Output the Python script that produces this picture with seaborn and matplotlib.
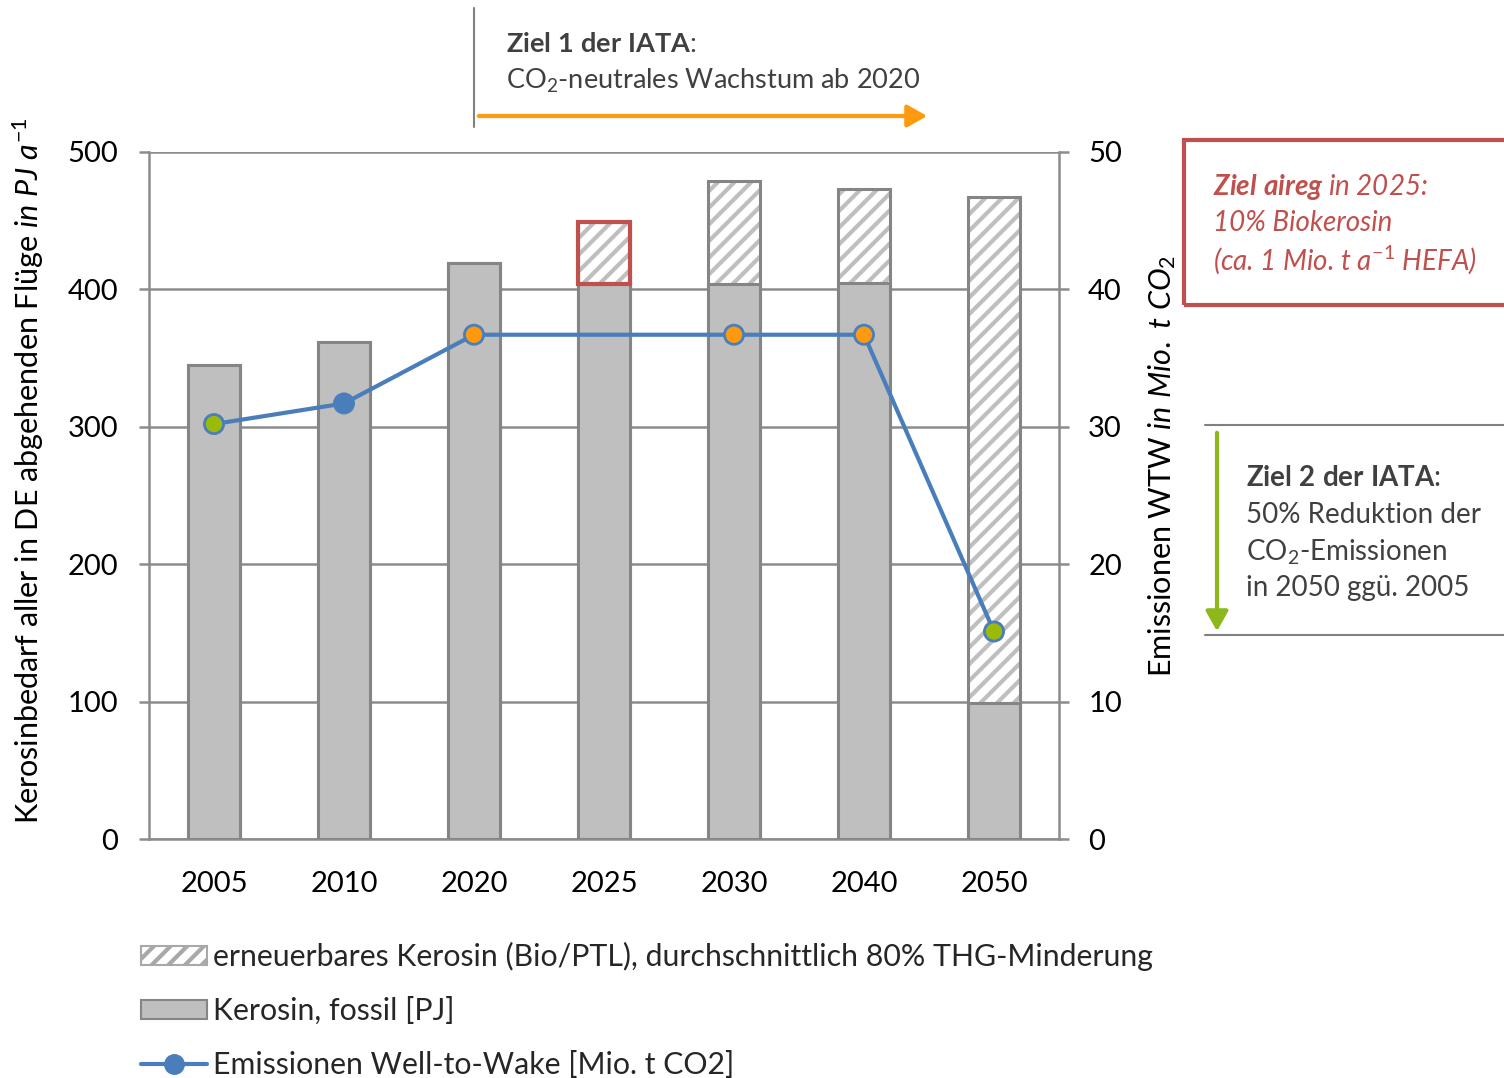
import numpy as np
import pandas as pd
import matplotlib
matplotlib.use("Agg")
import matplotlib.pyplot as plt
from matplotlib.patches import Patch, FancyArrowPatch, Rectangle
from matplotlib.lines import Line2D
import seaborn as sns

# --- data -------------------------------------------------------------
years = ["2005", "2010", "2020", "2025", "2030", "2040", "2050"]
fossil_pj = [345, 362, 419, 404, 404, 405, 99]
renewable_pj = [0, 0, 0, 45, 75, 68, 368]
emissions_mt = [30.2, 31.7, 36.7, np.nan, 36.7, 36.7, 15.1]
marker_colors = ["#9BBB0B", "#4A7EBB", "#FF9A0E", "#FF9A0E", "#FF9A0E", "#FF9A0E", "#9BBB0B"]

left_ticks = [0, 100, 200, 300, 400, 500]
right_ticks = [0, 10, 20, 30, 40, 50]

legend_labels = [
    "erneuerbares Kerosin (Bio/PTL), durchschnittlich 80% THG-Minderung",
    "Kerosin, fossil [PJ]",
    "Emissionen Well-to-Wake [Mio. t CO2]",
]

df = pd.DataFrame({"Jahr": years, "fossil": fossil_pj, "erneuerbar": renewable_pj})
df["gesamt"] = df["fossil"] + df["erneuerbar"]

# --- style ------------------------------------------------------------
sns.set_theme(style="white")
FONT = "Lato"
plt.rcParams["font.family"] = [FONT, "DejaVu Sans"]
plt.rcParams["mathtext.fontset"] = "custom"
plt.rcParams["mathtext.rm"] = FONT
plt.rcParams["mathtext.it"] = f"{FONT}:italic"
plt.rcParams["mathtext.bf"] = f"{FONT}:bold"
plt.rcParams["mathtext.bfit"] = f"{FONT}:italic:bold"
plt.rcParams["hatch.linewidth"] = 3.0

GRID = "#8C8C8C"
BAR = "#BFBFBF"
EDGE = "#858585"
BLUE = "#4A7EBB"
RED = "#C0504D"
TXT = "#404040"

W, H = 1504, 1078
fig = plt.figure(figsize=(W / 100, H / 100), dpi=100)


def fx(x):
    return x / W


def fy(y):
    return 1 - y / H


ax = fig.add_axes([fx(149), fy(839), fx(1059) - fx(149), fy(152) - fy(839)])

# stacked bars: hatched total first, fossil part on top of it
sns.barplot(data=df, x="Jahr", y="gesamt", ax=ax, width=0.4, color="white",
            edgecolor=BAR, linewidth=0, hatch="//", zorder=2)
sns.barplot(data=df, x="Jahr", y="gesamt", ax=ax, width=0.4, fill=False,
            edgecolor=EDGE, linewidth=2.2, zorder=3)
sns.barplot(data=df, x="Jahr", y="fossil", ax=ax, width=0.4, color=BAR,
            saturation=1, edgecolor=EDGE, linewidth=2.2, zorder=4)

ax.set_ylim(0, 500)
ax.set_xlim(-0.5, len(years) - 0.5)
ax.set_yticks(left_ticks)
ax.set_yticklabels([str(t) for t in left_ticks])
ax.set_xlabel("")
ax.set_ylabel("")
ax.yaxis.grid(True, color=GRID, linewidth=1.8, zorder=0)
ax.set_axisbelow(True)
ax.set_xticks(range(len(years)))
ax.set_xticklabels(years)
ax.set_xticks(np.arange(-0.5, len(years)), minor=True)
ax.tick_params(axis="x", which="major", length=0, pad=23, labelsize=21, labelcolor="black")
ax.tick_params(axis="x", which="minor", length=7, width=1.8, color=GRID, direction="out")
ax.tick_params(axis="y", length=7, width=1.8, color=GRID, direction="out", pad=15,
               labelsize=21, labelcolor="black", left=True)
for side in ["left", "right", "bottom", "top"]:
    ax.spines[side].set_color(GRID)
    ax.spines[side].set_linewidth(1.8)
ax.spines["top"].set_visible(False)

# emissions on the secondary axis
ax2 = ax.twinx()
xpos = np.arange(len(years))
em = pd.Series(emissions_mt)
valid = em.notna().values
sns.lineplot(x=xpos[valid], y=em[valid].values, ax=ax2, color=BLUE, linewidth=3,
             zorder=5)
ax2.scatter(xpos[valid], em[valid].values, s=190,
            c=[c for c, v in zip(marker_colors, valid) if v],
            edgecolors=BLUE, linewidths=2, zorder=6)
ax2.set_ylim(0, 50)
ax2.set_xlim(-0.5, len(years) - 0.5)
ax2.set_yticks(right_ticks)
ax2.set_yticklabels([str(t) for t in right_ticks])
ax2.tick_params(axis="y", length=7, width=1.8, color=GRID, direction="out", pad=14,
                labelsize=21, labelcolor="black", right=True)
for side in ["left", "right", "bottom", "top"]:
    ax2.spines[side].set_visible(False)
ax2.grid(False)

# highlight of the 2025 renewable share
i25 = years.index("2025")
ax.add_patch(Rectangle((i25 - 0.2, fossil_pj[i25]), 0.4, renewable_pj[i25],
                       fill=False, edgecolor=RED, linewidth=3, zorder=7))

# axis titles
fig.text(fx(28), fy(471), r"Kerosinbedarf aller in DE abgehenden Flüge $\mathit{in\ PJ\ a^{-1}}$",
         rotation=90, ha="center", va="center", fontsize=22, color="black")
fig.text(fx(1162), fy(466), r"Emissionen WTW $\mathit{in\ Mio.\ t\ CO_2}$",
         rotation=90, ha="center", va="center", fontsize=22, color="black")

# IATA goal 1
fig.add_artist(Line2D([fx(474), fx(474)], [fy(8), fy(127)], color="#808080", linewidth=1.5))
fig.add_artist(FancyArrowPatch((fx(476), fy(116)), (fx(930), fy(116)),
                               transform=fig.transFigure, arrowstyle="-|>,head_length=8,head_width=4.5",
                               color="#FF9A0E", linewidth=3, mutation_scale=1.5))
fig.text(fx(506), fy(44), r"$\mathbf{Ziel\ 1\ der\ IATA}$:", fontsize=19.5, color=TXT, va="center")
fig.text(fx(506), fy(81), r"CO$_2$-neutrales Wachstum ab 2020", fontsize=19.5, color=TXT, va="center")

# aireg goal box
fig.add_artist(Rectangle((fx(1184), fy(305)), fx(340), fy(140) - fy(305),
                         transform=fig.transFigure, fill=False, edgecolor=RED, linewidth=3))
fig.text(fx(1213), fy(187), r"$\mathbfit{Ziel\ aireg}$ in 2025:", fontsize=20, color=RED,
         style="italic", va="center")
fig.text(fx(1213), fy(223), "10% Biokerosin", fontsize=20, color=RED, style="italic", va="center")
fig.text(fx(1213), fy(260), r"(ca. 1 Mio. t $\mathit{a^{-1}}$ HEFA)", fontsize=20, color=RED,
         style="italic", va="center")

# IATA goal 2
fig.add_artist(Line2D([fx(1205), fx(1504)], [fy(425), fy(425)], color="#808080", linewidth=1.5))
fig.add_artist(Line2D([fx(1205), fx(1504)], [fy(635), fy(635)], color="#808080", linewidth=1.5))
fig.add_artist(FancyArrowPatch((fx(1217), fy(430)), (fx(1217), fy(634)),
                               transform=fig.transFigure, arrowstyle="-|>,head_length=8,head_width=4.5",
                               color="#8DB81B", linewidth=3, mutation_scale=1.5))
fig.text(fx(1246), fy(478), r"$\mathbf{Ziel\ 2\ der\ IATA}$:", fontsize=20, color=TXT, va="center")
fig.text(fx(1246), fy(515), "50% Reduktion der", fontsize=20, color=TXT, va="center")
fig.text(fx(1246), fy(552), r"CO$_2$-Emissionen", fontsize=20, color=TXT, va="center")
fig.text(fx(1246), fy(588), "in 2050 ggü. 2005", fontsize=20, color=TXT, va="center")

# legend
handles = [
    Patch(facecolor="white", edgecolor="#A8A8A8", hatch="//", linewidth=1.5),
    Patch(facecolor=BAR, edgecolor=EDGE, linewidth=1.5),
    Line2D([0], [0], color=BLUE, linewidth=3, marker="o", markersize=14,
           markerfacecolor=BLUE, markeredgecolor=BLUE),
]
fig.legend(handles, legend_labels, loc="upper left", bbox_to_anchor=(fx(129), fy(930)),
           frameon=False, fontsize=21.8, handlelength=2.16, handleheight=0.6,
           handletextpad=0.2, labelspacing=0.85, borderaxespad=0)

fig.savefig("out.png", dpi=100)
